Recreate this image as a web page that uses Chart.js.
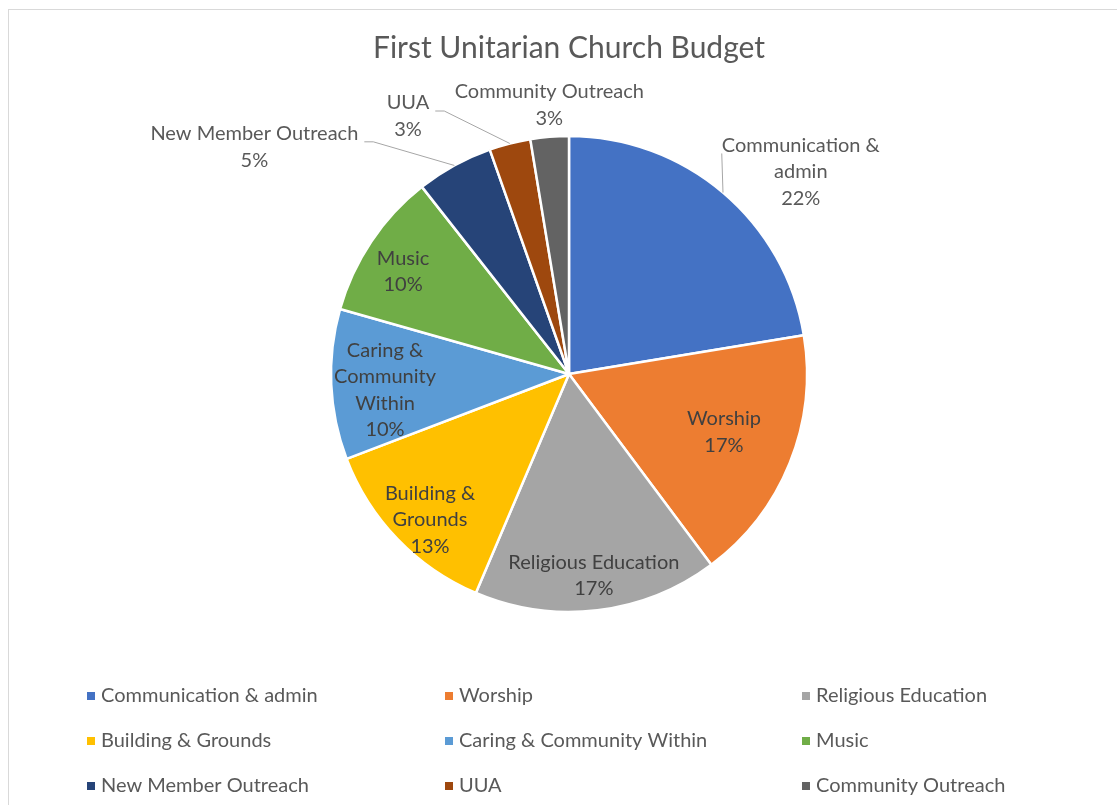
<!DOCTYPE html>
<html><head><meta charset="utf-8">
<script src="https://cdn.jsdelivr.net/npm/chart.js@4.4.0/dist/chart.umd.min.js"></script>
<style>
html,body{margin:0;padding:0;background:#fff;overflow:hidden;}
#frame{position:absolute;left:8px;top:9px;width:1300px;height:1000px;border:1px solid #d9d9d9;box-sizing:border-box;}
#wrap{position:absolute;left:0;top:0;width:1117px;height:805px;}
</style></head><body>
<div id="frame"></div>
<div id="wrap"><canvas id="c"></canvas></div>
<script>
// ---- data ----
const chartTitle = 'First Unitarian Church Budget';
const categories = ['Communication & admin','Worship','Religious Education','Building & Grounds','Caring & Community Within','Music','New Member Outreach','UUA','Community Outreach'];
const values = [22.4, 17.4, 16.6, 12.8, 10.2, 10.0, 5.2, 2.8, 2.6];
const colors = ['#4472C4','#ED7D31','#A5A5A5','#FFC000','#5B9BD5','#70AD47','#264478','#9E480E','#636363'];

// ---- label layout (wrapping + placement relative to slice) ----
const labelLines = [['Communication &','admin'],['Worship'],['Religious Education'],['Building &','Grounds'],['Caring &','Community','Within'],['Music'],['New Member Outreach'],['UUA'],['Community Outreach']];
const labelPlace = [
  {f:1.292, da:8.6, leader:'left'},
  {f:0.695, da:-1.5},
  {f:0.853, da:-0.2},
  {f:0.847, da:-2.5},
  {f:0.776, da:-2.5},
  {f:0.819, da:-2.2},
  {f:1.630, da:-25.4, leader:'right'},
  {f:1.277, da:-17.6, leader:'right'},
  {f:1.134, da:0.5}
];
const FONT = 'Lato, "Open Sans", sans-serif';

const labelPlugin = {
  id:'sliceLabels',
  afterDatasetsDraw(chart){
    const ctx = chart.ctx;
    const meta = chart.getDatasetMeta(0);
    const total = values.reduce((a,b)=>a+b,0);
    ctx.save();
    ctx.font = '20px ' + FONT;
    ctx.textAlign = 'center';
    ctx.textBaseline = 'middle';
    const lh = 26.5;
    meta.data.forEach((arc,i)=>{
      const p = arc.getProps(['x','y','startAngle','endAngle','outerRadius'], true);
      const P = labelPlace[i];
      const mid = (p.startAngle + p.endAngle)/2;
      const ang = mid + P.da*Math.PI/180;
      const r = p.outerRadius*P.f;
      const cx = p.x + r*Math.cos(ang), cy = p.y + r*Math.sin(ang);
      const lines = labelLines[i].concat([Math.round(values[i]/total*100)+'%']);
      const top = cy - (lines.length-1)*lh/2;
      if (P.leader){
        const ax = p.x + p.outerRadius*Math.cos(mid), ay = p.y + p.outerRadius*Math.sin(mid);
        const w = ctx.measureText(lines[0]).width;
        ctx.strokeStyle = '#A6A6A6'; ctx.lineWidth = 1;
        ctx.beginPath();
        if (P.leader === 'right'){
          const sx = cx + w/2 + 6, sy = top + 8;
          ctx.moveTo(sx, sy); ctx.lineTo(sx+9, sy); ctx.lineTo(ax, ay);
        } else {
          const sx = cx - w/2, sy = top + 8;
          ctx.moveTo(sx, sy); ctx.lineTo(ax, ay);
        }
        ctx.stroke();
      }
      ctx.fillStyle = P.leader || P.f>1 ? '#595959' : '#404040';
      lines.forEach((t,k)=> ctx.fillText(t, cx, top + k*lh));
    });
    ctx.restore();
  }
};

const legendPlugin = {
  id:'gridLegend',
  afterDraw(chart){
    const ctx = chart.ctx;
    const colX = [91, 449, 806];
    const rowY = [696, 741, 786];
    ctx.save();
    ctx.font = '20px ' + FONT;
    ctx.textBaseline = 'middle';
    ctx.textAlign = 'left';
    categories.forEach((c,i)=>{
      const x = colX[i%3], y = rowY[Math.floor(i/3)];
      ctx.fillStyle = colors[i];
      ctx.fillRect(x-4, y-4, 8, 8);
      ctx.fillStyle = '#595959';
      ctx.fillText(c, x+10, y);
    });
    ctx.restore();
  }
};

new Chart(document.getElementById('c'), {
  type:'pie',
  data:{ labels: categories, datasets:[{ data: values, backgroundColor: colors, borderColor:'#ffffff', borderWidth:2.5, radius:238, hoverOffset:0 }] },
  options:{
    responsive:true, maintainAspectRatio:false, animation:false,
    layout:{ padding:{ left:100, right:79, top:0, bottom:131 } },
    plugins:{
      legend:{ display:false },
      tooltip:{ enabled:false },
      title:{ display:true, text: chartTitle, color:'#595959', font:{ family: FONT, size:30, weight:'normal' }, padding:{ top:30, bottom:8 } }
    }
  },
  plugins:[labelPlugin, legendPlugin]
});
</script>
</body></html>
